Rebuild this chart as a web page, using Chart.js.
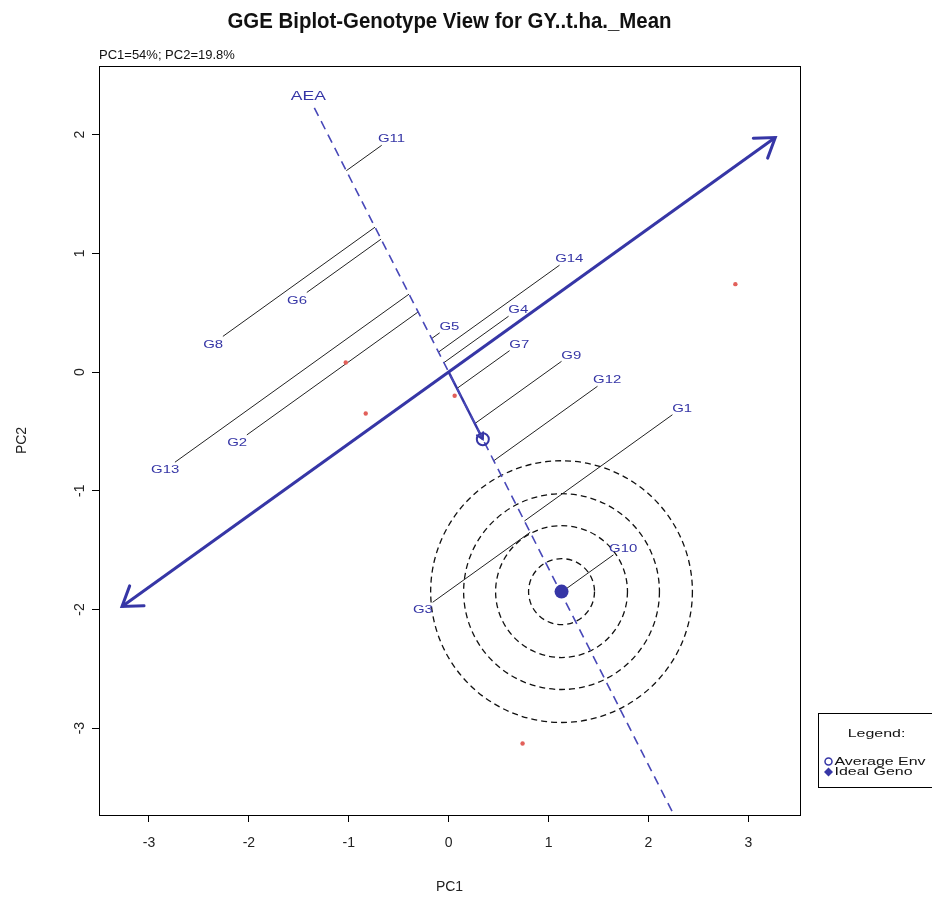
<!DOCTYPE html>
<html lang="en">
<head>
<meta charset="utf-8">
<title>GGE Biplot-Genotype View</title>
<script src="https://cdn.jsdelivr.net/npm/chart.js@4.4.1/dist/chart.umd.min.js"></script>
<style>
  html, body { margin: 0; padding: 0; background: #ffffff; }
  canvas { display: block; }
</style>
</head>
<body>
<canvas id="biplot" width="932" height="904"></canvas>
<script>
// Genotype scores on PC1 / PC2
const genotypes = ["G1", "G2", "G3", "G4", "G5", "G6", "G7", "G8", "G9", "G10", "G11", "G12", "G13", "G14"];
const genoPC1 = [2.24, -2.02, -0.16, 0.60, -0.09, -1.42, 0.61, -2.26, 1.13, 1.65, -0.67, 1.49, -2.74, 1.11];
const genoPC2 = [-0.36, -0.53, -1.94, 0.47, 0.33, 0.67, 0.18, 0.30, 0.09, -1.54, 1.91, -0.12, -0.76, 0.90];

// Environment scores (small red marks)
const envPC1 = [2.87, -1.03, -0.83, 0.06, 0.74];
const envPC2 = [0.74, 0.08, -0.35, -0.20, -3.13];

// Average environment and ideal genotype
const avgEnv = [0.342, -0.566];
const idealGeno = [1.13, -1.85];

// Concentric circles around the ideal genotype (radius in PC1 units)
const circleRadii = [0.33, 0.66, 0.98, 1.31];

// How far the AEA and its abscissa run, measured along each direction
const aeaExtent = [-2.6, 4.9];
const abscissaExtent = [-3.82, 3.82];

// Axis limits and ticks
const xLimits = [-3.5, 3.517];
const yLimits = [-3.732, 2.578];
const xTicks = [-3, -2, -1, 0, 1, 2, 3];
const yTicks = [-3, -2, -1, 0, 1, 2];

const BLUE = "#3636a6";
const BLUE_DASH = "#4848b8";
const RED = "#e2605a";
const SANS = "'Liberation Sans', Arial, sans-serif";

// AEA direction = direction of the average environment, abscissa is perpendicular
const aeaLen = Math.hypot(avgEnv[0], avgEnv[1]);
const aeaDir = [avgEnv[0] / aeaLen, avgEnv[1] / aeaLen];
const absDir = [-aeaDir[1], aeaDir[0]];

function along(dir, t) {
  return { x: dir[0] * t, y: dir[1] * t };
}

function footOnAea(i) {
  const t = genoPC1[i] * aeaDir[0] + genoPC2[i] * aeaDir[1];
  return along(aeaDir, t);
}

// segments genotype -> AEA, separated by gaps
const projectionPoints = [];
genotypes.forEach((g, i) => {
  projectionPoints.push({ x: genoPC1[i], y: genoPC2[i] }, footOnAea(i), { x: NaN, y: NaN });
});

function stretchedText(ctx, text, px, py, font, color, sx, align) {
  ctx.save();
  ctx.font = font;
  ctx.fillStyle = color;
  ctx.textAlign = align || "center";
  ctx.textBaseline = "middle";
  ctx.translate(px, py);
  ctx.scale(sx, 1);
  ctx.fillText(text, 0, 0);
  ctx.restore();
}

function arrowHead(ctx, fromX, fromY, toX, toY, len, deg) {
  const a = Math.atan2(toY - fromY, toX - fromX);
  const s = deg * Math.PI / 180;
  ctx.beginPath();
  ctx.moveTo(toX - len * Math.cos(a - s), toY - len * Math.sin(a - s));
  ctx.lineTo(toX, toY);
  ctx.lineTo(toX - len * Math.cos(a + s), toY - len * Math.sin(a + s));
  ctx.stroke();
}

const biplotDecor = {
  id: "biplotDecor",
  beforeDatasetsDraw(chart) {
    const { ctx, chartArea, scales: { x, y } } = chart;
    ctx.save();
    ctx.beginPath();
    ctx.rect(chartArea.left, chartArea.top, chartArea.width, chartArea.height);
    ctx.clip();
    // dashed circles round the ideal genotype
    const cx = x.getPixelForValue(idealGeno[0]);
    const cy = y.getPixelForValue(idealGeno[1]);
    ctx.strokeStyle = "#111";
    ctx.lineWidth = 1.3;
    ctx.setLineDash([6, 4]);
    circleRadii.forEach((r) => {
      const rp = x.getPixelForValue(idealGeno[0] + r) - cx;
      ctx.beginPath();
      ctx.arc(cx, cy, rp, 0, Math.PI * 2);
      ctx.stroke();
    });
    ctx.restore();
  },
  afterDatasetsDraw(chart) {
    const { ctx, scales: { x, y } } = chart;
    ctx.save();
    ctx.strokeStyle = BLUE;
    ctx.lineCap = "round";

    // arrowheads on both ends of the abscissa
    const a0 = along(absDir, abscissaExtent[0]);
    const a1 = along(absDir, abscissaExtent[1]);
    const p0 = [x.getPixelForValue(a0.x), y.getPixelForValue(a0.y)];
    const p1 = [x.getPixelForValue(a1.x), y.getPixelForValue(a1.y)];
    ctx.lineWidth = 3;
    arrowHead(ctx, p0[0], p0[1], p1[0], p1[1], 22, 34);
    arrowHead(ctx, p1[0], p1[1], p0[0], p0[1], 22, 34);

    // small arrow from origin to average environment
    const o = [x.getPixelForValue(0), y.getPixelForValue(0)];
    const ae = [x.getPixelForValue(avgEnv[0]), y.getPixelForValue(avgEnv[1])];
    ctx.lineWidth = 2;
    arrowHead(ctx, o[0], o[1], ae[0], ae[1], 7, 30);

    // AEA label at the top end of the axis
    const top = along(aeaDir, aeaExtent[0]);
    stretchedText(ctx, "AEA", x.getPixelForValue(top.x) - 6, y.getPixelForValue(top.y) - 11,
      "13px " + SANS, BLUE, 1.35);

    // genotype labels, pushed away from the AEA along their projection line
    genotypes.forEach((g, i) => {
      const gx = x.getPixelForValue(genoPC1[i]);
      const gy = y.getPixelForValue(genoPC2[i]);
      const f = footOnAea(i);
      const fx = x.getPixelForValue(f.x);
      const fy = y.getPixelForValue(f.y);
      const d = Math.hypot(gx - fx, gy - fy) || 1;
      const off = 12;
      stretchedText(ctx, g, gx + (gx - fx) / d * off, gy + (gy - fy) / d * off + 1,
        "11.5px " + SANS, BLUE, 1.3);
    });
    ctx.restore();
  },
  afterDraw(chart) {
    const { ctx, chartArea } = chart;
    ctx.save();
    // full box round the plot
    ctx.strokeStyle = "#000";
    ctx.lineWidth = 1;
    ctx.strokeRect(Math.round(chartArea.left) + 0.5, Math.round(chartArea.top) + 0.5,
      Math.round(chartArea.width), Math.round(chartArea.height));

    // titles: condensed bold main title, plain subtitle
    const mid = (chartArea.left + chartArea.right) / 2;
    const title = "GGE Biplot-Genotype View for GY..t.ha._Mean";
    ctx.font = "bold 22px " + SANS;
    const squeeze = 444 / ctx.measureText(title).width;
    stretchedText(ctx, title, mid, 22, "bold 22px " + SANS, "#111", squeeze);
    stretchedText(ctx, "PC1=54%; PC2=19.8%", chartArea.left, 55,
      "13px " + SANS, "#111", 1.0, "left");

    // legend box on the right
    const lx = 818.5, ly = 713.5;
    ctx.strokeStyle = "#000";
    ctx.lineWidth = 1;
    ctx.strokeRect(lx, ly, 130, 74);
    stretchedText(ctx, "Legend:", lx + 58, ly + 20, "11px " + SANS, "#111", 1.45);
    ctx.strokeStyle = BLUE;
    ctx.lineWidth = 1.5;
    ctx.beginPath();
    ctx.arc(lx + 10, ly + 48, 3.5, 0, Math.PI * 2);
    ctx.stroke();
    ctx.fillStyle = BLUE;
    ctx.beginPath();
    ctx.moveTo(lx + 10, ly + 54);
    ctx.lineTo(lx + 14.5, ly + 58.5);
    ctx.lineTo(lx + 10, ly + 63);
    ctx.lineTo(lx + 5.5, ly + 58.5);
    ctx.closePath();
    ctx.fill();
    stretchedText(ctx, "Average Env", lx + 16, ly + 48, "11px " + SANS, "#111", 1.45, "left");
    stretchedText(ctx, "Ideal Geno", lx + 16, ly + 58.5, "11px " + SANS, "#111", 1.45, "left");
    ctx.restore();
  }
};

const axisFont = { family: SANS, size: 14 };

new Chart(document.getElementById("biplot"), {
  type: "scatter",
  data: {
    datasets: [
      {
        label: "Ideal Geno",
        data: [{ x: idealGeno[0], y: idealGeno[1] }],
        pointRadius: 7,
        pointBackgroundColor: BLUE,
        pointBorderColor: BLUE,
        pointBorderWidth: 0
      },
      {
        label: "Average Env",
        data: [{ x: avgEnv[0], y: avgEnv[1] }],
        pointRadius: 6,
        pointBackgroundColor: "rgba(255,255,255,0)",
        pointBorderColor: BLUE,
        pointBorderWidth: 2
      },
      {
        label: "Environments",
        data: envPC1.map((v, i) => ({ x: v, y: envPC2[i] })),
        pointRadius: 2.2,
        pointBackgroundColor: RED,
        pointBorderWidth: 0
      },
      {
        label: "AEC abscissa",
        data: abscissaExtent.map((t) => along(absDir, t)),
        showLine: true,
        borderColor: BLUE,
        borderWidth: 3,
        pointRadius: 0
      },
      {
        label: "AEA",
        data: aeaExtent.map((t) => along(aeaDir, t)),
        showLine: true,
        borderColor: BLUE_DASH,
        borderWidth: 1.6,
        borderDash: [9, 6],
        pointRadius: 0
      },
      {
        label: "Origin to average env",
        data: [{ x: 0, y: 0 }, { x: avgEnv[0], y: avgEnv[1] }],
        showLine: true,
        borderColor: BLUE,
        borderWidth: 2.5,
        pointRadius: 0
      },
      {
        label: "Projections",
        data: projectionPoints,
        showLine: true,
        spanGaps: false,
        borderColor: "#222",
        borderWidth: 1,
        pointRadius: 0
      },
      {
        label: "Genotypes",
        data: genotypes.map((g, i) => ({ x: genoPC1[i], y: genoPC2[i] })),
        pointRadius: 0
      }
    ]
  },
  options: {
    responsive: false,
    animation: false,
    events: [],
    layout: { padding: { top: 66, right: 132, bottom: 0, left: 0 } },
    plugins: {
      legend: { display: false },
      tooltip: { enabled: false },
      title: { display: false }
    },
    scales: {
      x: {
        type: "linear",
        position: "bottom",
        min: xLimits[0],
        max: xLimits[1],
        afterBuildTicks: (s) => { s.ticks = xTicks.map((v) => ({ value: v })); },
        afterFit: (s) => { s.height = 89; },
        grid: { display: true, drawOnChartArea: false, drawTicks: true, tickLength: 7, color: "#000" },
        border: { display: true, color: "#000" },
        ticks: { color: "#222", font: axisFont, padding: 13, maxRotation: 0 },
        title: { display: true, text: "PC1", color: "#222", font: axisFont, padding: { top: 0, bottom: 8 } }
      },
      y: {
        type: "linear",
        position: "left",
        min: yLimits[0],
        max: yLimits[1],
        afterBuildTicks: (s) => { s.ticks = yTicks.map((v) => ({ value: v })); },
        afterFit: (s) => { s.width = 99; },
        grid: { display: true, drawOnChartArea: false, drawTicks: true, tickLength: 7, color: "#000" },
        border: { display: true, color: "#000" },
        ticks: { color: "#222", font: axisFont, padding: 6, minRotation: 90, maxRotation: 90, crossAlign: "center" },
        title: { display: true, text: "PC2", color: "#222", font: axisFont, padding: { top: 14, bottom: 0 } }
      }
    }
  },
  plugins: [biplotDecor]
});
</script>
</body>
</html>
